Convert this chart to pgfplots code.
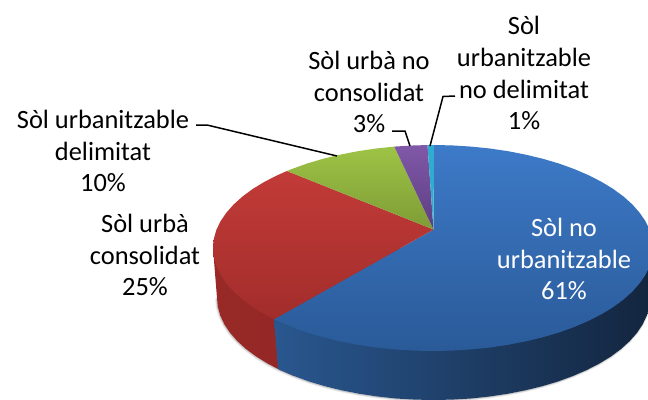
\documentclass[border=0pt]{standalone}
\usepackage{pgfplots}
\pgfplotsset{compat=1.18}
\usepackage{fontspec}
\setmainfont{Carlito}
\definecolor{bt}{HTML}{3D7AC8}\definecolor{bb}{HTML}{2A5A98}
\definecolor{rt}{HTML}{C23B38}\definecolor{rb}{HTML}{A22D2B}
\definecolor{gt}{HTML}{9DC345}\definecolor{gb}{HTML}{7E9C36}
\definecolor{pt}{HTML}{8058A8}\definecolor{pb}{HTML}{5D3E82}
\definecolor{cy}{HTML}{30ACD0}
\definecolor{bwl}{HTML}{29578F}\definecolor{bwm}{HTML}{183558}\definecolor{bwr}{HTML}{13253E}
\definecolor{rwl}{HTML}{982927}\definecolor{rwr}{HTML}{8C2523}
\pgfplotstableread{
x y
650 298
649.2 306.9
646.7 315.7
642.6 324.4
636.9 332.9
629.7 341.1
621 349
610.9 356.5
599.3 363.6
586.6 370.1
572.7 376.1
557.7 381.6
541.8 386.3
525 390.4
507.5 393.8
489.5 396.5
471.1 398.5
452.4 399.6
433.5 400
414.6 399.6
395.9 398.5
377.5 396.5
359.5 393.8
342 390.4
325.2 386.3
309.3 381.6
294.3 376.1
280.4 370.1
278 369
267.7 363.6
256.1 356.5
246 349
237.3 341.1
230.1 332.9
224.4 324.4
220.3 315.7
217.8 306.9
217 298
}\lowerrim
\newcommand{\lab}[3]{\node[align=center,font=\fontsize{26.5}{32}\selectfont,text=#3,inner sep=0pt] at (axis cs:#1) {#2};}
\begin{document}
\begin{tikzpicture}
\useasboundingbox (0,0) rectangle (648bp,400bp);
\begin{axis}[scale only axis,width=648bp,height=400bp,xmin=0,xmax=648,ymin=0,ymax=400,y dir=reverse,hide axis,clip=true]
% soft shadow under the rim
\addplot[gray!18,line width=2.6pt,no markers,xshift=-0.6pt,yshift=-0.6pt] table[x=x,y=y] {\lowerrim};
\addplot[gray!40,line width=1.2pt,no markers,xshift=-0.4pt,yshift=-0.4pt] table[x=x,y=y] {\lowerrim};
% red wall (runs on under the blue wall)
\addplot[draw=none,left color=rwl,right color=rwr,no markers] coordinates {
(294.3,376.1)(280.4,370.1)(278,369)(267.7,363.6)(256.1,356.5)(246,349)(237.3,341.1)(230.1,332.9)(224.4,324.4)(220.3,315.7)(217.8,306.9)(217,298)(213,248)(433,248)(300,319)(294.3,376.1)};
% blue wall
\addplot[draw=none,left color=bwl,middle color=bwm,right color=bwr,no markers] coordinates {
(653,248)(650,298)(649.2,306.9)(646.7,315.7)(642.6,324.4)(636.9,332.9)(629.7,341.1)(621,349)(610.9,356.5)(599.3,363.6)(586.6,370.1)(572.7,376.1)(557.7,381.6)(541.8,386.3)(525,390.4)(507.5,393.8)(489.5,396.5)(471.1,398.5)(452.4,399.6)(433.5,400)(414.6,399.6)(395.9,398.5)(377.5,396.5)(359.5,393.8)(342,390.4)(325.2,386.3)(309.3,381.6)(294.3,376.1)(280.4,370.1)(278,369)(274,319)(433,248)(653,248)};
% blue top
\addplot[draw=none,top color=bt,bottom color=bb,no markers] coordinates {
(433.5,229.5)(433.5,145)(452.2,145.4)(471.2,146.6)(489.9,148.5)(508.2,151.2)(526,154.7)(543,158.8)(559.2,163.6)(574.4,169.1)(588.6,175.2)(601.5,181.8)(613.2,188.9)(623.5,196.5)(632.4,204.5)(639.7,212.8)(645.5,221.3)(649.7,230.1)(652.2,239)(653,248)(652.2,257)(649.7,265.9)(645.5,274.7)(639.7,283.2)(632.4,291.5)(623.5,299.5)(613.2,307.1)(601.5,314.2)(588.6,320.8)(574.4,326.9)(559.2,332.4)(543,337.2)(526,341.3)(508.2,344.8)(489.9,347.5)(471.2,349.4)(452.2,350.6)(433,351)(413.8,350.6)(394.8,349.4)(376.1,347.5)(357.8,344.8)(340,341.3)(323,337.2)(306.8,332.4)(291.6,326.9)(277.4,320.8)(274,319.2)(433.5,229.5)};
% red top
\addplot[draw=none,top color=rt,bottom color=rb,no markers] coordinates {
(433.5,229.5)(274,319.2)(264.5,314.2)(252.8,307.1)(242.5,299.5)(233.6,291.5)(226.3,283.2)(220.5,274.7)(216.3,265.9)(213.8,257)(213,248)(213.8,239)(216.3,230.1)(220.5,221.3)(226.3,212.8)(233.6,204.5)(242.5,196.5)(252.8,188.9)(264.5,181.8)(277.4,175.2)(287,171)(433.5,229.5)};
% green top
\addplot[draw=none,top color=gt,bottom color=gb,no markers] coordinates {
(433.5,229.5)(287,171)(291.6,169.1)(306.8,163.6)(323,158.8)(340,154.7)(357.8,151.2)(376.1,148.5)(394.3,146.6)(433.5,229.5)};
% purple top
\addplot[draw=none,top color=pt,bottom color=pb,no markers] coordinates {
(433.5,229.5)(394.3,146.6)(413.8,145.4)(427.5,145.1)(433.5,229.5)};
% cyan top
\addplot[draw=none,fill=cy,no markers] coordinates {
(433.5,229.5)(427.5,145.1)(434,145)(433.5,229.5)};
% leader lines
\addplot[black,line width=1.5pt,no markers] coordinates {(196,125)(207,125)(337,156)};
\addplot[black,line width=1.5pt,no markers] coordinates {(392,131)(405,131)(410,146)};
\addplot[black,line width=1.5pt,no markers] coordinates {(455,96)(443,96.5)(430,146)};
% labels
\lab{524,73}{Sòl\\urbanitzable\\no delimitat\\1\%}{black}
\lab{369,92}{Sòl urbà no\\consolidat\\3\%}{black}
\lab{103,151}{Sòl urbanitzable\\delimitat\\10\%}{black}
\lab{145,255}{Sòl urbà\\consolidat\\25\%}{black}
\lab{564,259}{Sòl no\\urbanitzable\\61\%}{white}
\end{axis}
\end{tikzpicture}
\end{document}
